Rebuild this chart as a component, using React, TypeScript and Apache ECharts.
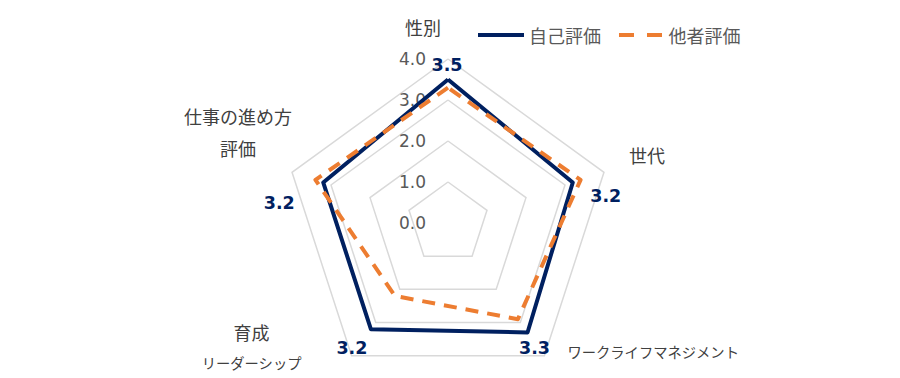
import React, { useEffect, useRef } from 'react';
import * as echarts from 'echarts';

// ---- data (listed clockwise from the top) ----
const indicatorNames = ['性別', '世代', 'ワークライフマネジメント', '育成リーダーシップ', '仕事の進め方評価'];
const seriesNames = ['自己評価', '他者評価'];
const selfValues = [3.5, 3.2, 3.3, 3.2, 3.2];
const otherValues = [3.3, 3.4, 2.9, 2.2, 3.4];
const axisMin = 0;
const axisMax = 4;
const axisInterval = 1;

// ECharts lays radar indicators out counter-clockwise; this order makes them clockwise
const displayOrder = [0, 4, 3, 2, 1];

// ---- styles ----
const NAVY = '#002060';
const ORANGE = '#ED7D31';
const NAME_COLOR = '#404040';
const JP = '"Noto Sans CJK JP", "Noto Sans", sans-serif';
const NUM = '"DejaVu Sans", sans-serif';

// rich-text layout for each indicator name (spacers only shift the text)
const nameLayouts: Record<string, string> = {
  '性別': '{k|性別}{w50| }\n{sp22| }',
  '世代': '{w25| }{k|世代}\n{sp34| }',
  'ワークライフマネジメント': '{w23| }{kt|ワークライフマネジメント}\n{sp8| }',
  '育成リーダーシップ': '{kc|育成}{wc50| }\n{ktc|リーダーシップ}{wc50| }\n{spc17| }',
  '仕事の進め方評価': '{kc2|仕事の進め方}\n{kc2|評価}\n{spc80| }',
};

// value-label placement per indicator (original order)
const valueLabelLayouts = [
  { position: 'top', offset: [-1, 0] },
  { position: 'right', offset: [12, 14] },
  { position: 'bottom', offset: [7, 1] },
  { position: 'bottom', offset: [-19, 4] },
  { position: 'left', offset: [-23, 21] },
];

export default function App() {
  const ref = useRef<HTMLDivElement>(null);
  useEffect(() => {
    document.body.style.margin = '0';
    if (!ref.current) return;
    const chart = echarts.init(ref.current, undefined, { renderer: 'svg' });
    const sp = (h: number, center = false) => ({ lineHeight: h, fontSize: 2, align: center ? 'center' : undefined });
    const ordered = (arr: number[]) => displayOrder.map((k) => arr[k]);
    const option: any = {
      animation: false,
      legend: {
        data: [
          { name: seriesNames[0], icon: 'path://M0,0H47V4H0Z', itemStyle: { color: NAVY, borderWidth: 0 } },
          { name: seriesNames[1], icon: 'path://M0,0H15V4H0Z M28,0H43V4H28Z', itemStyle: { color: ORANGE, borderWidth: 0 } },
        ],
        left: 473,
        top: 21,
        itemWidth: 46,
        itemHeight: 4,
        itemGap: 18,
        selectedMode: false,
        textStyle: { fontSize: 18, color: '#595959', fontFamily: JP },
      },
      radar: {
        center: [448, 223],
        radius: 164,
        shape: 'polygon',
        splitNumber: 4,
        startAngle: 90,
        nameGap: 0,
        indicator: displayOrder.map((k, i) => ({
          name: indicatorNames[k],
          min: axisMin,
          max: axisMax,
          interval: axisInterval,
          ...(i === 0
            ? {
                axisLabel: {
                  show: true,
                  margin: 22,
                  color: '#595959',
                  fontSize: 17,
                  fontFamily: NUM,
                  formatter: (v: number) => v.toFixed(1),
                },
              }
            : {}),
        })),
        axisName: {
          formatter: (name: string) => nameLayouts[name] ?? name,
          color: NAME_COLOR,
          fontFamily: JP,
          rich: {
            k: { fontSize: 18, lineHeight: 20, color: NAME_COLOR, fontFamily: JP },
            kt: { fontSize: 14.3, lineHeight: 20, color: NAME_COLOR, fontFamily: JP },
            kc: { fontSize: 18, lineHeight: 31, color: NAME_COLOR, fontFamily: JP, align: 'center' },
            ktc: { fontSize: 14.3, lineHeight: 31, color: NAME_COLOR, fontFamily: JP, align: 'center' },
            kc2: { fontSize: 18, lineHeight: 32, color: NAME_COLOR, fontFamily: JP, align: 'center' },
            w50: { width: 50, fontSize: 2 },
            w25: { width: 25, fontSize: 2 },
            w23: { width: 23, fontSize: 2 },
            wc50: { width: 50, fontSize: 2, align: 'center' },
            sp22: sp(22),
            sp34: sp(34),
            sp8: sp(8),
            spc17: sp(17, true),
            spc80: sp(80, true),
          },
        },
        axisLine: { show: false },
        axisTick: { show: false },
        axisLabel: { show: false },
        splitArea: { show: false },
        splitLine: { lineStyle: { color: '#D9D9D9', width: 1.5 } },
      },
      series: [
        {
          type: 'radar',
          symbol: 'none',
          data: [
            {
              name: seriesNames[0],
              value: ordered(selfValues),
              itemStyle: { color: NAVY },
              lineStyle: { color: NAVY, width: 4 },
            },
            {
              name: seriesNames[1],
              value: ordered(otherValues),
              itemStyle: { color: ORANGE },
              lineStyle: { color: ORANGE, width: 4, type: [13, 9] },
            },
          ],
        },
        {
          type: 'radar',
          silent: true,
          symbol: 'circle',
          symbolSize: 1,
          itemStyle: { color: NAVY },
          lineStyle: { opacity: 0, width: 0 },
          data: valueLabelLayouts.map((lay, i) => ({
            name: 'valueLabel' + i,
            value: ordered(selfValues),
            label: {
              show: true,
              position: lay.position,
              offset: lay.offset,
              distance: 5,
              color: NAVY,
              fontWeight: 'bold',
              fontSize: 17.5,
              fontFamily: NUM,
              formatter: (p: any) => {
                const d = p.dimensionIndex;
                if (d == null || displayOrder[d] !== i) return '';
                const v = Array.isArray(p.value) ? p.value[d] : p.value;
                return Number(v).toFixed(1);
              },
            },
          })),
        },
      ],
    };
    chart.setOption(option);
    return () => chart.dispose();
  }, []);
  return <div ref={ref} style={{ width: 900, height: 378 }} />;
}
